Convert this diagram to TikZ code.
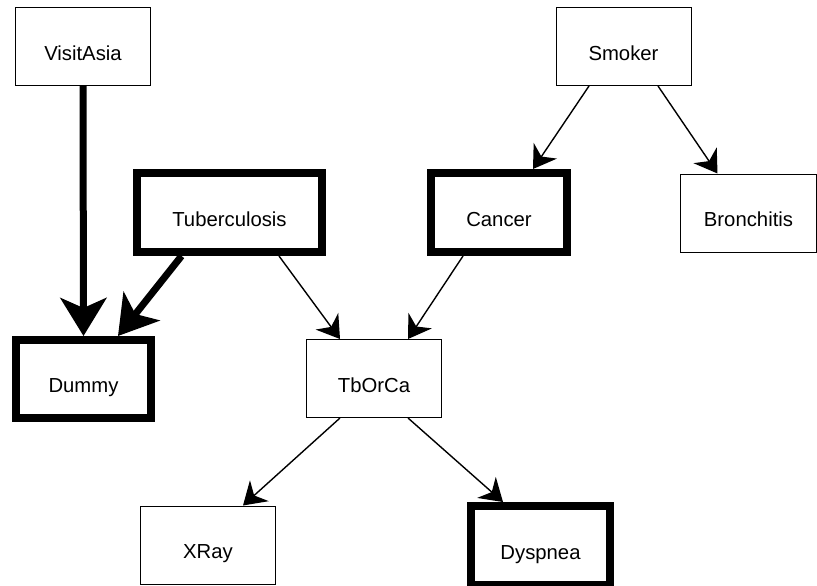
\documentclass[tikz,border=0pt]{standalone}
\usepackage{fontspec}
\setmainfont{Liberation Sans}
\usetikzlibrary{arrows.meta}
\begin{document}
\begin{tikzpicture}[x=1pt,y=-1pt,
  var/.style={draw=black,fill=white,line width=1pt,minimum width=135pt,minimum height=78pt,
    inner sep=0pt,text height=27.5pt,text depth=0pt,font=\fontsize{20.3}{24}\selectfont},
  observed/.style={var,line width=8pt,minimum height=79pt},
  link/.style={line width=1.4pt,-{Stealth[length=22pt,width=28pt,inset=7pt]}},
  strong/.style={line width=7pt,-{Stealth[length=38pt,width=46pt,inset=10pt]}}]
  \useasboundingbox (0,0) rectangle (817,586);

  % network variables
  \node[var] (visit) at (83,46.5) {VisitAsia};
  \node[var] (smoker) at (623.5,46.5) {Smoker};
  \node[observed,minimum width=185pt] (tub) at (229.5,212.5) {Tuberculosis};
  \node[observed,minimum width=136pt] (cancer) at (499,212.5) {Cancer};
  \node[var,minimum width=136pt] (bron) at (748.5,213) {Bronchitis};
  \node[observed,minimum width=135pt,minimum height=78pt] (dummy) at (83.5,379) {Dummy};
  \node[var] (tborca) at (374,378.5) {TbOrCa};
  \node[var] (xray) at (208,545) {XRay};
  \node[observed,minimum width=139pt] (dysp) at (540.5,545.5) {Dyspnea};

  % dependencies
  \draw[strong] (visit.south) -- (dummy.north);
  \draw[strong] ([xshift=-48pt]tub.south) -- ([xshift=34.5pt]dummy.north);
  \draw[link] ([xshift=-34.5pt]smoker.south) -- ([xshift=34pt]cancer.north);
  \draw[link] ([xshift=34.5pt]smoker.south) -- ([xshift=-31pt]bron.north);
  \draw[link] ([xshift=49.5pt]tub.south) -- ([xshift=-34pt]tborca.north);
  \draw[link] ([xshift=-36pt]cancer.south) -- ([xshift=34pt]tborca.north);
  \draw[link] ([xshift=-34pt]tborca.south) -- ([xshift=35pt]xray.north);
  \draw[link] ([xshift=34pt]tborca.south) -- ([xshift=-37.5pt]dysp.north);
\end{tikzpicture}
\end{document}
